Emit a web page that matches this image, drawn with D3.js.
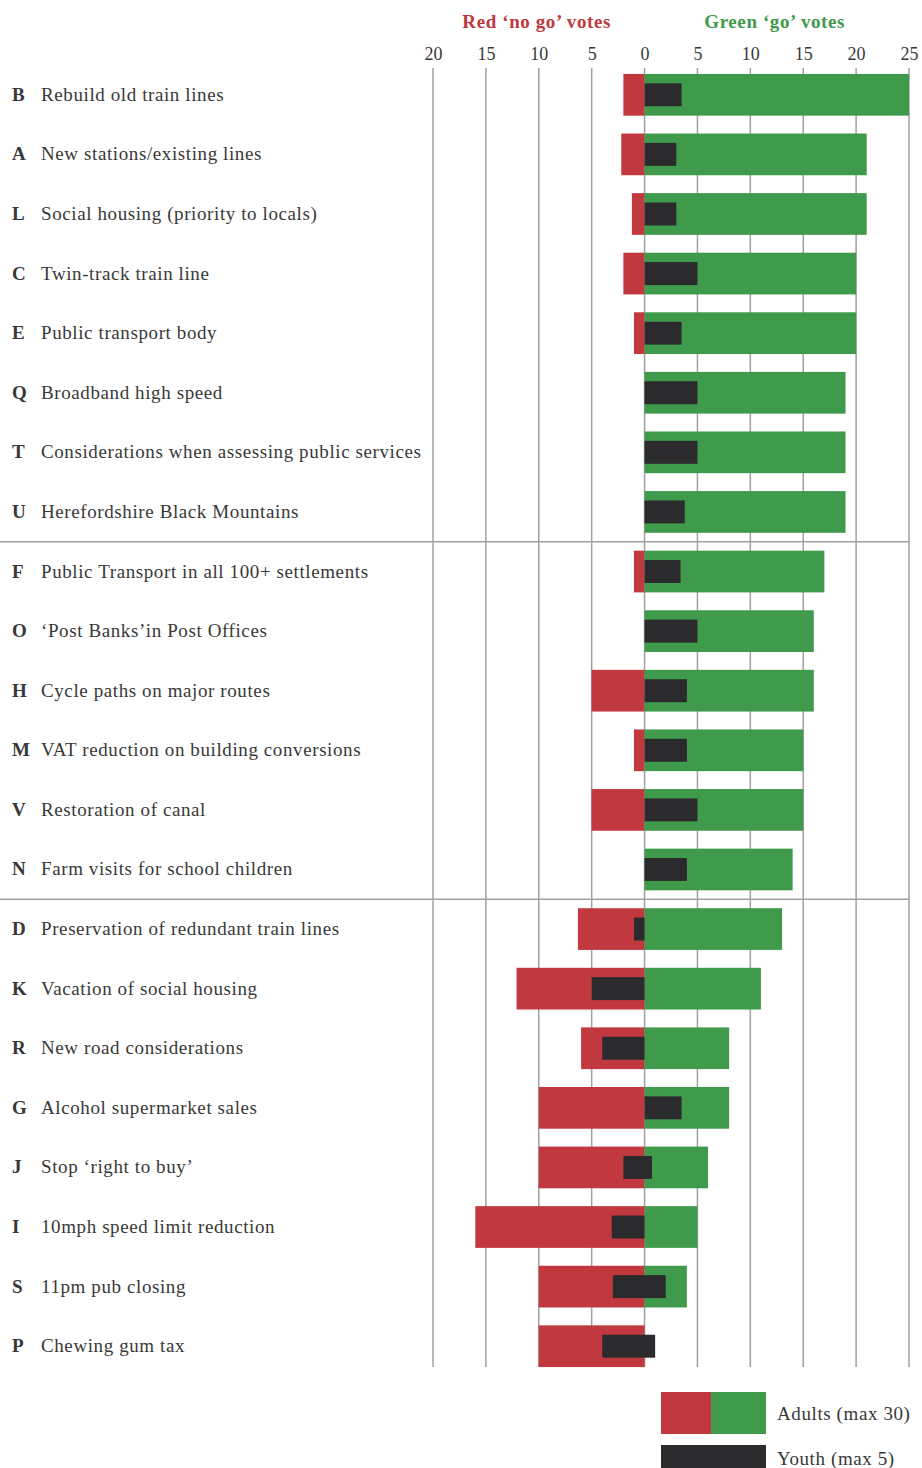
<!DOCTYPE html>
<html>
  <head>
    <title>Go / no go votes</title>
    <script src="https://cdn.jsdelivr.net/npm/d3@7/dist/d3.min.js"></script>
    <style>
      body { margin: 0; background: #fff; }
      text { font-family: "Liberation Serif", "Times New Roman", serif; }
    </style>
  </head>
  <body>
    <svg width="922" height="1468"></svg>

    <script>
      // one row per proposal, top to bottom
      const codes = ["B","A","L","C","E","Q","T","U","F","O","H","M","V","N","D","K","R","G","J","I","S","P"];
      const labels = [
        "Rebuild old train lines",
        "New stations/existing lines",
        "Social housing (priority to locals)",
        "Twin-track train line",
        "Public transport body",
        "Broadband high speed",
        "Considerations when assessing public services",
        "Herefordshire Black Mountains",
        "Public Transport in all 100+ settlements",
        "\u2018Post Banks\u2019in Post Offices",
        "Cycle paths on major routes",
        "VAT reduction on building conversions",
        "Restoration of canal",
        "Farm visits for school children",
        "Preservation of redundant train lines",
        "Vacation of social housing",
        "New road considerations",
        "Alcohol supermarket sales",
        "Stop \u2018right to buy\u2019",
        "10mph speed limit reduction",
        "11pm pub closing",
        "Chewing gum tax"
      ];
      const adultGo   = [25, 21, 21, 20, 20, 19, 19, 19, 17, 16, 16, 15, 15, 14, 13, 11, 8, 8, 6, 5, 4, 0];
      const adultNoGo = [2, 2.2, 1.2, 2, 1, 0, 0, 0, 1, 0, 5, 1, 5, 0, 6.3, 12.1, 6, 10, 10, 16, 10, 10];
      const youthGo   = [3.5, 3, 3, 5, 3.5, 5, 5, 3.8, 3.4, 5, 4, 4, 5, 4, 0, 0, 0, 3.5, 0.7, 0, 2, 1];
      const youthNoGo = [0, 0, 0, 0, 0, 0, 0, 0, 0, 0, 0, 0, 0, 0, 1, 5, 4, 0, 2, 3.1, 3, 4];
      const groupStarts = ["F", "D"];
      const tickValues = [-20, -15, -10, -5, 0, 5, 10, 15, 20, 25];

      const rows = codes.map((c, i) => ({
        code: c, label: labels[i],
        go: adultGo[i], nogo: adultNoGo[i],
        ygo: youthGo[i], ynogo: youthNoGo[i]
      }));

      const red = "#c1383f", green = "#3f9a4c", dark = "#2b2b2d", grid = "#a0a0a0", ink = "#383838";
      const fs = 19, ls = 0.6;

      const svg = d3.select("svg");

      const x = d3.scaleLinear().domain([-20, 25]).range([433, 909]);
      const y = d3.scaleBand()
        .domain(codes)
        .range([65, 1376])
        .paddingInner(0.3)
        .paddingOuter(0.15);

      const gridTop = 68, gridBottom = 1367;

      // vertical grid lines
      svg.append("g")
        .selectAll("line")
        .data(tickValues)
        .join("line")
          .attr("x1", d => x(d)).attr("x2", d => x(d))
          .attr("y1", gridTop).attr("y2", gridBottom)
          .attr("stroke", grid)
          .attr("stroke-width", 1.5);

      // group separators
      svg.append("g")
        .selectAll("line")
        .data(groupStarts)
        .join("line")
          .attr("x1", 0).attr("x2", x(25))
          .attr("y1", d => y(d) - y.step() * y.paddingInner() / 2)
          .attr("y2", d => y(d) - y.step() * y.paddingInner() / 2)
          .attr("stroke", grid)
          .attr("stroke-width", 1.5);

      // tick labels
      const axis = svg.append("g")
        .attr("transform", `translate(0,${gridTop})`)
        .call(d3.axisTop(x).tickValues(tickValues).tickSize(0).tickPadding(8).tickFormat(d => Math.abs(d)));
      axis.select(".domain").remove();
      axis.selectAll("text")
        .attr("font-family", "Liberation Serif")
        .attr("font-size", 18)
        .attr("fill", ink);

      // titles
      svg.append("text")
        .attr("x", x(-10.2)).attr("y", 28)
        .attr("text-anchor", "middle")
        .attr("font-size", fs).attr("font-weight", "bold").attr("letter-spacing", ls)
        .attr("fill", red)
        .text("Red \u2018no go\u2019 votes");
      svg.append("text")
        .attr("x", x(12.3)).attr("y", 28)
        .attr("text-anchor", "middle")
        .attr("font-size", fs).attr("font-weight", "bold").attr("letter-spacing", ls)
        .attr("fill", green)
        .text("Green \u2018go\u2019 votes");

      const bh = y.bandwidth();
      const yh = bh * 0.55;

      const row = svg.append("g")
        .selectAll("g")
        .data(rows)
        .join("g")
          .attr("transform", d => `translate(0,${y(d.code)})`);

      row.append("rect")
        .attr("x", d => x(-d.nogo))
        .attr("width", d => x(0) - x(-d.nogo))
        .attr("height", bh)
        .attr("fill", red);

      row.append("rect")
        .attr("x", x(0))
        .attr("width", d => x(d.go) - x(0))
        .attr("height", bh)
        .attr("fill", green);

      row.append("rect")
        .attr("x", d => x(-d.ynogo))
        .attr("y", (bh - yh) / 2)
        .attr("width", d => x(d.ygo) - x(-d.ynogo))
        .attr("height", yh)
        .attr("fill", dark);

      row.append("text")
        .attr("x", 12).attr("y", bh / 2 + 6)
        .attr("font-size", fs).attr("font-weight", "bold")
        .attr("fill", ink)
        .text(d => d.code);

      row.append("text")
        .attr("x", 41).attr("y", bh / 2 + 6)
        .attr("font-size", fs).attr("letter-spacing", ls)
        .attr("fill", ink)
        .text(d => d.label);

      // legend
      const lg = svg.append("g");
      lg.append("rect").attr("x", 661).attr("y", 1392).attr("width", 50).attr("height", 42).attr("fill", red);
      lg.append("rect").attr("x", 711).attr("y", 1392).attr("width", 55).attr("height", 42).attr("fill", green);
      lg.append("rect").attr("x", 661).attr("y", 1445).attr("width", 105).attr("height", 30).attr("fill", dark);
      lg.append("text").attr("x", 777).attr("y", 1420).attr("font-size", fs).attr("letter-spacing", ls).attr("fill", ink).text("Adults (max 30)");
      lg.append("text").attr("x", 777).attr("y", 1465).attr("font-size", fs).attr("letter-spacing", ls).attr("fill", ink).text("Youth (max 5)");
    </script>
  </body>
</html>
